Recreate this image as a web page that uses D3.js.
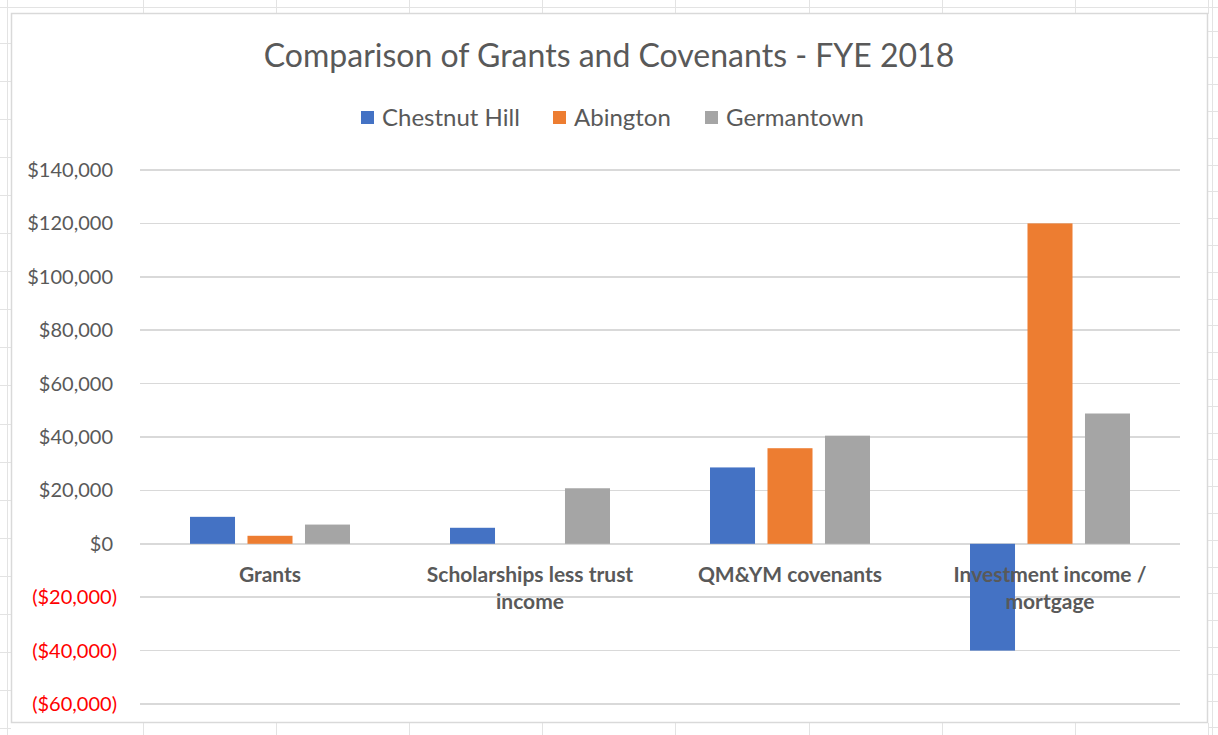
<!DOCTYPE html>
<meta charset="utf-8">
<style>
    body {
        margin: 0;
        background: #fff;
        font-family: Lato, "Open Sans", sans-serif;
    }

    .grid line {
        stroke: #d9d9d9;
        stroke-width: 1.5;
        shape-rendering: crispEdges;
    }

    .sheet line {
        stroke: #e3e3e3;
        stroke-width: 1;
        shape-rendering: crispEdges;
    }
</style>

<body>

    <script src="https://d3js.org/d3.v7.min.js"></script>

    <script>

        // chart data
        var categories = [["Grants"], ["Scholarships less trust", "income"], ["QM&YM covenants"], ["Investment income /", "mortgage"]];
        var seriesNames = ["Chestnut Hill", "Abington", "Germantown"];
        var seriesColors = ["#4472C4", "#ED7D31", "#A5A5A5"];
        var chestnutHill = [10100, 6000, 28600, -40000];
        var abington = [3000, 0, 35800, 120000];
        var germantown = [7200, 20800, 40500, 48800];
        var yTicks = [-60000, -40000, -20000, 0, 20000, 40000, 60000, 80000, 100000, 120000, 140000];

        var W = 1218, H = 735;
        var margin = { top: 170, right: 38, bottom: 31, left: 140 },
            width = W - margin.left - margin.right,
            height = H - margin.top - margin.bottom;

        var svg = d3.select("body")
            .append("svg")
            .attr("width", W)
            .attr("height", H);

        // faint spreadsheet cells behind the chart
        var sheet = svg.append("g").attr("class", "sheet");
        sheet.append("line").attr("x1", 0).attr("x2", W).attr("y1", 7).attr("y2", 7);
        sheet.append("line").attr("x1", 7).attr("x2", 7).attr("y1", 0).attr("y2", H);
        sheet.append("line").attr("x1", 1212).attr("x2", 1212).attr("y1", 0).attr("y2", H);
        d3.range(143, W, 133.2).forEach(function (x) {
            sheet.append("line").attr("x1", x).attr("x2", x).attr("y1", 0).attr("y2", 14);
            sheet.append("line").attr("x1", x).attr("x2", x).attr("y1", 723).attr("y2", H);
        });
        d3.range(43, H, 38.1).forEach(function (y) {
            sheet.append("line").attr("x1", 0).attr("x2", 11).attr("y1", y).attr("y2", y);
        });
        d3.range(31, H, 26.8).forEach(function (y) {
            sheet.append("line").attr("x1", 1208).attr("x2", W).attr("y1", y).attr("y2", y);
        });

        // chart box
        svg.append("rect")
            .attr("x", 11.5)
            .attr("y", 13.5)
            .attr("width", 1196)
            .attr("height", 709)
            .attr("fill", "#fff")
            .attr("stroke", "#d9d9d9")
            .attr("stroke-width", 1.5);

        svg.append("text")
            .attr("x", 609)
            .attr("y", 67)
            .attr("text-anchor", "middle")
            .attr("font-size", "32px")
            .attr("fill", "#595959")
            .text("Comparison of Grants and Covenants - FYE 2018");

        // legend
        var legendX = [361, 553, 705];
        var legend = svg.append("g");
        seriesNames.forEach(function (name, i) {
            legend.append("rect")
                .attr("x", legendX[i])
                .attr("y", 111)
                .attr("width", 13)
                .attr("height", 13)
                .attr("fill", seriesColors[i]);
            legend.append("text")
                .attr("x", legendX[i] + 21)
                .attr("y", 126)
                .attr("font-size", "24px")
                .attr("fill", "#595959")
                .text(name);
        });

        var g = svg.append("g")
            .attr("transform", "translate(" + margin.left + "," + margin.top + ")");

        var x0 = d3.scaleBand()
            .domain(d3.range(categories.length))
            .range([0, width]);
        var x1 = d3.scaleBand()
            .domain(d3.range(seriesNames.length))
            .range([50, 210])
            .paddingInner(0.217)
            .paddingOuter(0);
        var y = d3.scaleLinear()
            .domain([-60000, 140000])
            .range([height, 0]);

        // gridlines
        g.append("g")
            .attr("class", "grid")
            .selectAll("line")
            .data(yTicks)
            .enter().append("line")
            .attr("x1", 0)
            .attr("x2", width)
            .attr("y1", function (d) { return y(d); })
            .attr("y2", function (d) { return y(d); });

        // y axis labels
        var fmt = d3.format("$,");
        g.append("g")
            .selectAll("text")
            .data(yTicks)
            .enter().append("text")
            .attr("x", function (d) { return d < 0 ? -23 : -27; })
            .attr("y", function (d) { return y(d); })
            .attr("dy", "0.35em")
            .attr("text-anchor", "end")
            .attr("font-size", "20px")
            .attr("fill", function (d) { return d < 0 ? "#ff0000" : "#595959"; })
            .text(function (d) { return d < 0 ? "(" + fmt(-d) + ")" : fmt(d); });

        // bars
        var allSeries = [chestnutHill, abington, germantown];
        allSeries.forEach(function (vals, s) {
            g.append("g")
                .selectAll("rect")
                .data(vals)
                .enter().append("rect")
                .attr("x", function (d, i) { return x0(i) + x1(s); })
                .attr("width", x1.bandwidth())
                .attr("y", function (d) { return y(Math.max(0, d)); })
                .attr("height", function (d) { return Math.abs(y(d) - y(0)); })
                .attr("fill", seriesColors[s]);
        });

        // category labels
        var labels = g.append("g");
        categories.forEach(function (lines, i) {
            var t = labels.append("text")
                .attr("x", x0(i) + x0.bandwidth() / 2)
                .attr("y", y(0) + 38)
                .attr("text-anchor", "middle")
                .attr("font-size", "21px")
                .attr("font-weight", "bold")
                .attr("fill", "#595959");
            lines.forEach(function (line, k) {
                t.append("tspan")
                    .attr("x", x0(i) + x0.bandwidth() / 2)
                    .attr("dy", k === 0 ? 0 : 27)
                    .text(line);
            });
        });

    </script>
</body>
